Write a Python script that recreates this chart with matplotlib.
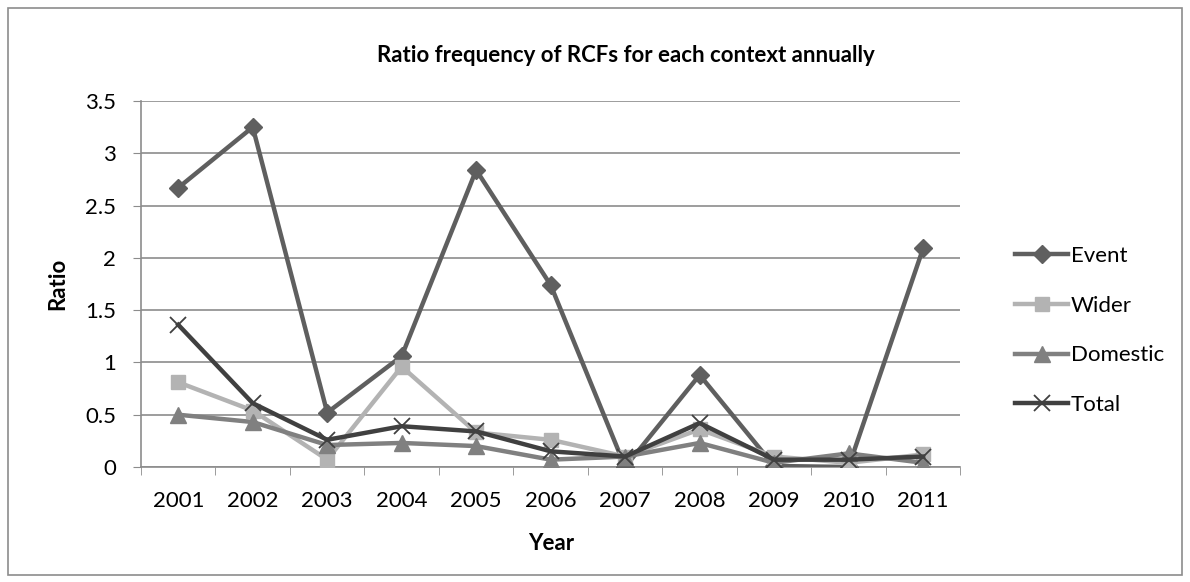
import matplotlib.pyplot as plt
import numpy as np
from matplotlib.patches import Rectangle

plt.rcParams['font.family'] = ['Lato', 'DejaVu Sans']

years = ['2001', '2002', '2003', '2004', '2005', '2006', '2007', '2008', '2009', '2010', '2011']
event = [2.67, 3.25, 0.52, 1.06, 2.84, 1.74, 0.0, 0.88, 0.01, 0.0, 2.09]
wider = [0.81, 0.54, 0.07, 0.96, 0.33, 0.26, 0.10, 0.36, 0.10, 0.04, 0.12]
domestic = [0.50, 0.43, 0.21, 0.23, 0.20, 0.07, 0.10, 0.23, 0.04, 0.13, 0.04]
total = [1.36, 0.61, 0.26, 0.39, 0.34, 0.15, 0.10, 0.42, 0.07, 0.07, 0.10]

fig = plt.figure(figsize=(11.9, 5.82), dpi=100)
ax = fig.add_axes([0.1185, 0.1976, 0.6885, 0.6289])

# 外框
fig.patches.append(Rectangle((0.007, 0.012), 0.986, 0.975, transform=fig.transFigure,
                             fill=False, edgecolor='#8c8c8c', linewidth=1.2))

x = np.arange(len(years))
lw = 3.2
ax.plot(x, event, color='#5f5f5f', linewidth=lw, marker='D', markersize=9, label='Event', zorder=3)
ax.plot(x, wider, color='#b3b3b3', linewidth=lw, marker='s', markersize=10, label='Wider', zorder=3)
ax.plot(x, domestic, color='#808080', linewidth=lw, marker='^', markersize=11, label='Domestic', zorder=3)
ax.plot(x, total, color='#404040', linewidth=lw, marker='x', markersize=11, markeredgewidth=1.3,
        label='Total', zorder=4)

fs = 16
ax.set_xlim(-0.5, len(years) - 0.5)
ax.set_ylim(0, 3.5)
ax.set_yticks(np.arange(0, 3.51, 0.5))
ax.set_yticklabels(['0', '0.5', '1', '1.5', '2', '2.5', '3', '3.5'])
ax.set_xticks(x)
ax.set_xticklabels(years)
ax.set_xticks(np.arange(-0.5, len(years), 1), minor=True)
ax.tick_params(axis='x', which='major', length=0, labelsize=fs, pad=17)
ax.tick_params(axis='x', which='minor', length=6, color='#8c8c8c', direction='out')
ax.tick_params(axis='y', length=6, color='#8c8c8c', labelsize=fs, pad=12)

ax.grid(axis='y', color='#8c8c8c', linewidth=1.2)
ax.set_axisbelow(True)
for s in ['top', 'right']:
    ax.spines[s].set_visible(False)
for s in ['left', 'bottom']:
    ax.spines[s].set_color('#8c8c8c')
    ax.spines[s].set_linewidth(1.2)

ax.set_xlabel('Year', fontsize=fs, fontweight='bold', labelpad=16)
ax.set_ylabel('Ratio', fontsize=fs, fontweight='bold', labelpad=12)
fig.text(0.526, 0.905, 'Ratio frequency of RCFs for each context annually',
         ha='center', va='center', fontsize=fs, fontweight='bold')

ax.legend(loc='center left', bbox_to_anchor=(0.853, 0.432), bbox_transform=fig.transFigure,
          frameon=False, fontsize=fs, handlelength=2.4, handletextpad=0.1,
          labelspacing=1.33, borderaxespad=0, borderpad=0)

fig.savefig('out.png', dpi=100)
